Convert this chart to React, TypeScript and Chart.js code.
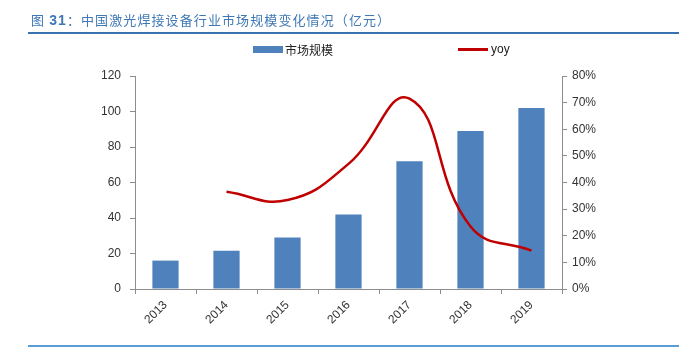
import React, { useEffect, useRef } from "react";
import { Chart, registerables } from "chart.js";

Chart.register(...registerables);

const categories = ["2013", "2014", "2015", "2016", "2017", "2018", "2019"];
const marketSize = [16, 21.6, 29, 42, 72, 89, 102];
const yoyPercent = [null, 36.5, 33.4, 47, 71.5, 23.5, 14.4];
const leftAxisMax = 120;
const leftAxisStep = 20;
const rightAxisMax = 80;
const rightAxisStep = 10;

const titleText = "中国激光焊接设备行业市场规模变化情况（亿元）";
const barLabel = "市场规模";
const lineLabel = "yoy";

const FONT = "'Liberation Sans', Arial, 'Noto Sans CJK SC', sans-serif";
const BAR_COLOR = "#4F81BD";
const LINE_COLOR = "#C00000";
const AXIS_COLOR = "#8c8c8c";
const TEXT_COLOR = "#333333";

export default function App() {
  const canvasRef = useRef<HTMLCanvasElement | null>(null);

  useEffect(() => {
    const canvas = canvasRef.current;
    if (!canvas) return;
    const chart = new Chart(canvas, {
      type: "bar",
      data: {
        labels: categories,
        datasets: [
          {
            type: "line",
            label: lineLabel,
            data: yoyPercent,
            yAxisID: "y1",
            borderColor: LINE_COLOR,
            borderWidth: 2.5,
            pointRadius: 0,
            tension: 0.45,
            fill: false,
            order: 0,
          } as any,
          {
            type: "bar",
            label: barLabel,
            data: marketSize,
            yAxisID: "y",
            backgroundColor: BAR_COLOR,
            categoryPercentage: 1,
            barPercentage: 0.43,
            order: 1,
          },
        ],
      },
      options: {
        responsive: false,
        animation: false,
        layout: { padding: { left: 0, right: 0, top: 76, bottom: 0 } },
        plugins: {
          legend: { display: false },
          title: { display: false },
          tooltip: { enabled: false },
        },
        scales: {
          x: {
            offset: true,
            grid: {
              display: true,
              offset: true,
              drawOnChartArea: false,
              drawTicks: true,
              tickLength: 5,
              color: AXIS_COLOR,
            },
            border: { display: true, color: AXIS_COLOR },
            ticks: {
              minRotation: 45,
              maxRotation: 45,
              padding: 4,
              color: TEXT_COLOR,
              font: { family: FONT, size: 12 },
            },
            afterFit: (scale: any) => {
              scale.height = 65;
            },
          },
          y: {
            position: "left",
            min: 0,
            max: leftAxisMax,
            grid: {
              display: true,
              drawOnChartArea: false,
              drawTicks: true,
              tickLength: 5,
              color: AXIS_COLOR,
            },
            border: { display: true, color: AXIS_COLOR },
            ticks: {
              stepSize: leftAxisStep,
              padding: 9,
              color: TEXT_COLOR,
              font: { family: FONT, size: 12 },
            },
            afterFit: (scale: any) => {
              scale.width = 135;
            },
          },
          y1: {
            position: "right",
            min: 0,
            max: rightAxisMax,
            grid: {
              display: true,
              drawOnChartArea: false,
              drawTicks: true,
              tickLength: 5,
              color: AXIS_COLOR,
            },
            border: { display: true, color: AXIS_COLOR },
            ticks: {
              stepSize: rightAxisStep,
              padding: 5,
              color: TEXT_COLOR,
              font: { family: FONT, size: 12 },
              callback: (v: any) => `${v}%`,
            },
            afterFit: (scale: any) => {
              scale.width = 117;
            },
          },
        },
      },
    });
    return () => chart.destroy();
  }, []);

  return (
    <div
      style={{
        position: "fixed",
        left: 0,
        top: 0,
        width: 679,
        height: 354,
        background: "#ffffff",
        overflow: "hidden",
        fontFamily: FONT,
      }}
    >
      <canvas
        ref={canvasRef}
        width={679}
        height={354}
        style={{ position: "absolute", left: 0, top: 0, width: 679, height: 354 }}
      />
      <div
        style={{
          position: "absolute",
          left: 31,
          top: 11,
          fontSize: 13,
          letterSpacing: "1.1px",
          color: "#3F78B5",
          whiteSpace: "nowrap",
          lineHeight: "18px",
          fontFamily: "'Noto Sans CJK SC', sans-serif",
        }}
      >
        图 <b style={{ fontFamily: FONT, fontSize: 14 }}>31</b>：{titleText}
      </div>
      <div
        style={{
          position: "absolute",
          left: 28,
          top: 32,
          width: 651,
          height: 2,
          background: "#3A72B0",
        }}
      />
      <div
        style={{
          position: "absolute",
          left: 253,
          top: 46,
          width: 30,
          height: 7,
          background: BAR_COLOR,
        }}
      />
      <div
        style={{
          position: "absolute",
          left: 285,
          top: 42,
          fontSize: 12,
          color: "#222",
          lineHeight: "16px",
          whiteSpace: "nowrap",
          fontFamily: "'Noto Sans CJK SC', sans-serif",
        }}
      >
        {barLabel}
      </div>
      <div
        style={{
          position: "absolute",
          left: 458,
          top: 48,
          width: 30,
          height: 2.5,
          background: LINE_COLOR,
        }}
      />
      <div
        style={{
          position: "absolute",
          left: 491,
          top: 41,
          fontSize: 12,
          color: "#222",
          lineHeight: "16px",
          whiteSpace: "nowrap",
        }}
      >
        {lineLabel}
      </div>
      <div
        style={{
          position: "absolute",
          left: 28,
          top: 345,
          width: 651,
          height: 2,
          background: "#5B9BD5",
        }}
      />
    </div>
  );
}
